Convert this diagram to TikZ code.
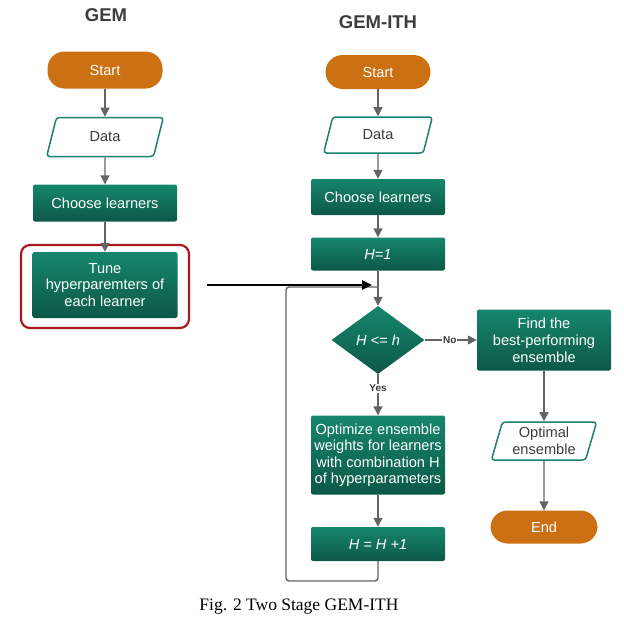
\documentclass[tikz,border=0pt]{standalone}
\usepackage{fontspec}
\setmainfont{Liberation Sans}
\newfontfamily\capfont{Liberation Serif}
\usetikzlibrary{shapes.geometric,arrows.meta}
\definecolor{tealtop}{RGB}{22,134,108}
\definecolor{tealbot}{RGB}{12,88,72}
\definecolor{tealline}{RGB}{30,128,110}
\definecolor{orangefill}{RGB}{204,112,20}
\definecolor{arrowgray}{RGB}{100,100,100}
\definecolor{redline}{RGB}{170,25,30}
\definecolor{txtgray}{RGB}{60,60,60}
\tikzset{
  procbox/.style={rectangle, rounded corners=2pt, top color=tealtop, bottom color=tealbot, draw=none, text=white, align=center, font=\fontsize{14.6}{16.8}\selectfont, inner sep=2pt},
  termbox/.style={rectangle, rounded corners=17pt, fill=orangefill, draw=none, text=white, font=\fontsize{14.6}{16.8}\selectfont, inner sep=0pt},
  iobox/.style={trapezium, trapezium left angle=73, trapezium right angle=107, trapezium stretches=true, draw=tealline, line width=1.5pt, rounded corners=3pt, fill=white, text=txtgray, align=center, font=\fontsize{14.6}{16.8}\selectfont, inner sep=0pt},
  decbox/.style={diamond, top color=tealtop, bottom color=tealbot, text=white, font=\fontsize{14.6}{16.8}\selectfont\itshape, inner sep=0pt},
  flow/.style={draw=arrowgray, line width=1.4pt, -{Triangle[length=9pt,width=9pt]}},
  lbl/.style={fill=white, font=\fontsize{10}{12}\selectfont\bfseries, text=txtgray, inner sep=1pt},
  title/.style={font=\fontsize{18.5}{21}\selectfont\bfseries, text=txtgray}
}
\begin{document}
\begin{tikzpicture}[x=1pt,y=-1pt]
\useasboundingbox (0,0) rectangle (624,627);
% titles
\node[title] (t1) at (106,15) {GEM};
\node[title] (t2) at (378,22) {GEM-ITH};
% GEM column
\node[termbox, minimum width=115pt, minimum height=37pt] (s1) at (105,70) {Start};
\node[iobox, minimum width=117pt, minimum height=39pt] (d1) at (105,137) {Data};
\node[procbox, minimum width=144pt, minimum height=37pt] (c1) at (105,203) {Choose learners};
\node[procbox, minimum width=145pt, minimum height=66pt] (tu) at (105,285) {Tune\\hyperparemters of\\each learner};
\node[draw=redline, line width=2.2pt, rounded corners=9pt, minimum width=168pt, minimum height=83pt, inner sep=0pt] (rb) at (105,286.5) {};
\draw[flow] (s1) -- (d1);
\draw[flow] (d1) -- (c1);
\draw[flow] (c1) -- (tu);
% GEM-ITH column
\node[termbox, minimum width=105pt, minimum height=34pt] (s2) at (378,72) {Start};
\node[iobox, minimum width=109pt, minimum height=36pt] (d2) at (378,135) {Data};
\node[procbox, minimum width=134pt, minimum height=36pt] (c2) at (378,197) {Choose learners};
\node[procbox, minimum width=134pt, minimum height=33pt, font=\fontsize{14.6}{16.8}\selectfont\itshape] (h1) at (378,254) {H=1};
\node[decbox, minimum width=93pt, minimum height=68pt] (dec) at (378,340) {H <= h};
\node[procbox, minimum width=134pt, minimum height=61pt] (fb) at (544,340) {Find the\\best-performing\\ensemble};
\node[procbox, minimum width=134pt, minimum height=79pt, font=\fontsize{14.6}{16.5}\selectfont] (op) at (378,455) {Optimize ensemble\\weights for learners\\with combination H\\of hyperparameters};
\node[procbox, minimum width=134pt, minimum height=34pt, font=\fontsize{14.6}{16.8}\selectfont\itshape] (hp) at (378,544) {H = H +1};
\node[iobox, minimum width=106pt, minimum height=38pt] (oe) at (544,441) {Optimal\\ensemble};
\node[termbox, minimum width=107pt, minimum height=33pt] (en) at (544,527) {End};
\coordinate (j) at (378,287);
\coordinate (lb) at (378,581);
\coordinate (ll) at (286,581);
\coordinate (lt) at (286,287);
\draw[flow] (s2) -- (d2);
\draw[flow] (d2) -- (c2);
\draw[flow] (c2) -- (h1);
\draw[flow] (h1) -- (dec);
\draw[flow] (dec) -- node[lbl, pos=0.48] {No} (fb);
\draw[flow] (dec) -- node[lbl, pos=0.35] {Yes} (op);
\draw[flow] (op) -- (hp);
\draw[flow] (fb) -- (oe);
\draw[flow] (oe) -- (en);
\draw[draw=arrowgray, line width=1.4pt, rounded corners=3pt] (hp.south) -- (lb) -- (ll) -- (lt) -- (j);
% black arrow from GEM tune step
\coordinate (ba) at (207,285);
\coordinate (bb) at (372,285);
\draw[black, line width=2.4pt, -{Triangle[length=10pt,width=9pt]}] (ba) -- (bb);
% caption
\node[font=\capfont\fontsize{17.5}{20}\selectfont] (cap) at (299,607) {Fig. 2 Two Stage GEM-ITH};
\end{tikzpicture}
\end{document}
